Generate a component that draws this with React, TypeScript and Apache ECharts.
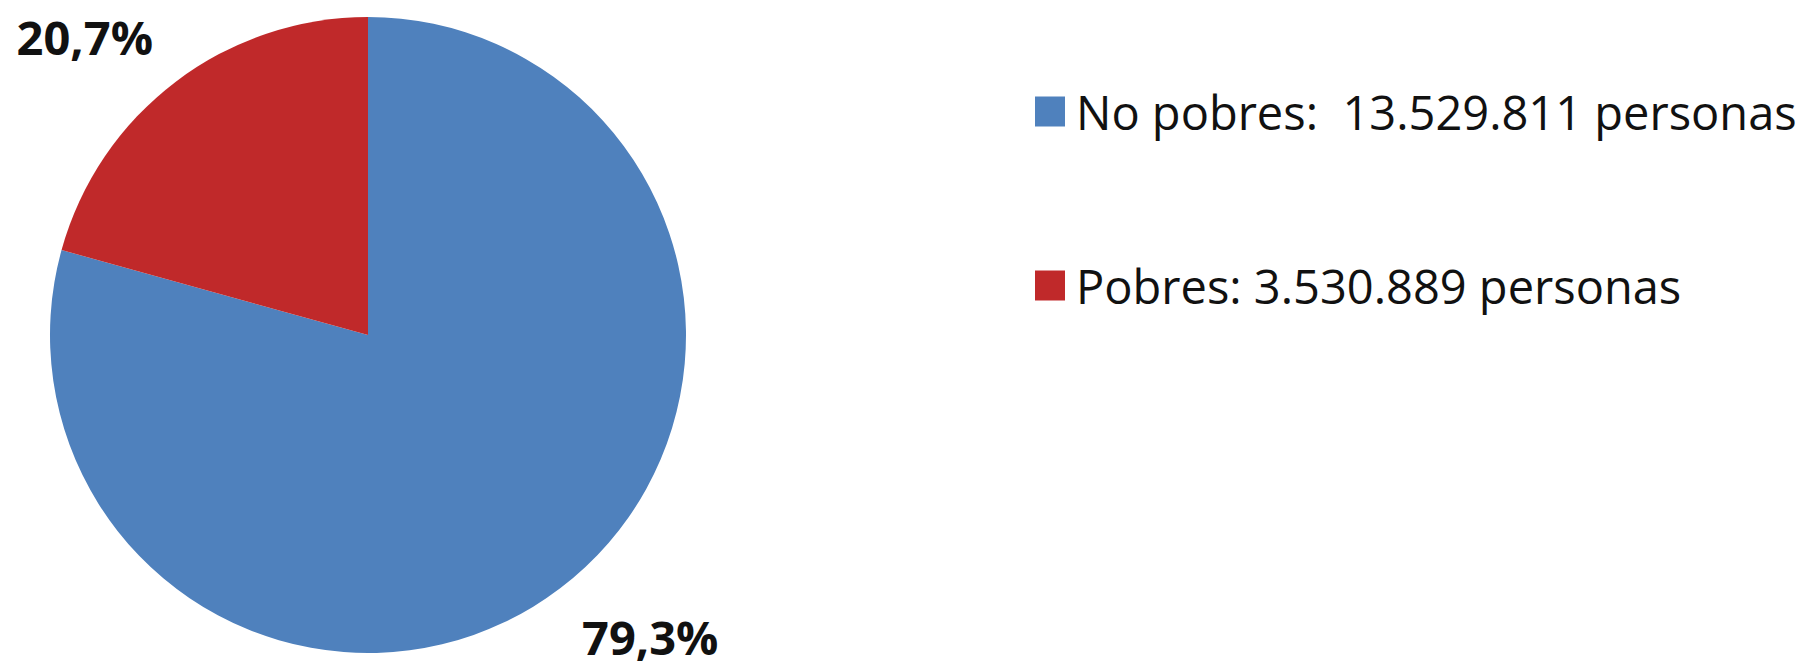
import React, { useEffect, useRef } from "react";
import * as echarts from "echarts";

const categories = ["No pobres", "Pobres"];
const values = [13529811, 3530889];
const colors = ["#4F81BD", "#C0292A"];
const legendSpacers = ["  ", " "];
const unitLabel = "personas";

function fmtThousands(v: number): string {
  return String(v).replace(/\B(?=(\d{3})+(?!\d))/g, ".");
}

export default function App() {
  const ref = useRef<HTMLDivElement>(null);
  useEffect(() => {
    document.body.style.margin = "0";
    if (!ref.current) return;
    const chart = echarts.init(ref.current, null, { renderer: "svg" });
    const labelLines = [
      { length: 62, length2: -21 },
      { length: 57, length2: -17 },
    ];
    chart.setOption({
      animation: false,
      backgroundColor: "#ffffff",
      legend: {
        orient: "vertical",
        left: 1030,
        top: 83,
        icon: "rect",
        itemWidth: 30,
        itemHeight: 30,
        itemGap: 127,
        data: categories,
        formatter: (name: string) => {
          const i = categories.indexOf(name);
          return `${name}:${legendSpacers[i]}${fmtThousands(values[i])} ${unitLabel}`;
        },
        textStyle: {
          fontFamily: "'Open Sans', sans-serif",
          fontSize: 47,
          lineHeight: 30,
          color: "#111111",
          padding: [0, 0, 0, 6],
        },
      },
      series: [
        {
          type: "pie",
          center: [368, 335],
          radius: 318,
          startAngle: 90,
          clockwise: true,
          avoidLabelOverlap: false,
          itemStyle: { borderWidth: 0 },
          emphasis: { disabled: true },
          label: {
            show: true,
            position: "outside",
            fontFamily: "'Open Sans', sans-serif",
            fontWeight: "bold",
            fontSize: 47,
            lineHeight: 40,
            color: "#111111",
            formatter: (p: any) => `${Number(p.percent).toFixed(1).replace(".", ",")}%`,
          },
          labelLine: { show: false },
          data: categories.map((name, i) => ({
            name,
            value: values[i],
            itemStyle: { color: colors[i] },
            labelLine: { show: false, ...labelLines[i] },
          })),
        },
      ],
    });
    return () => chart.dispose();
  }, []);
  return <div ref={ref} style={{ width: 1814, height: 668 }} />;
}
